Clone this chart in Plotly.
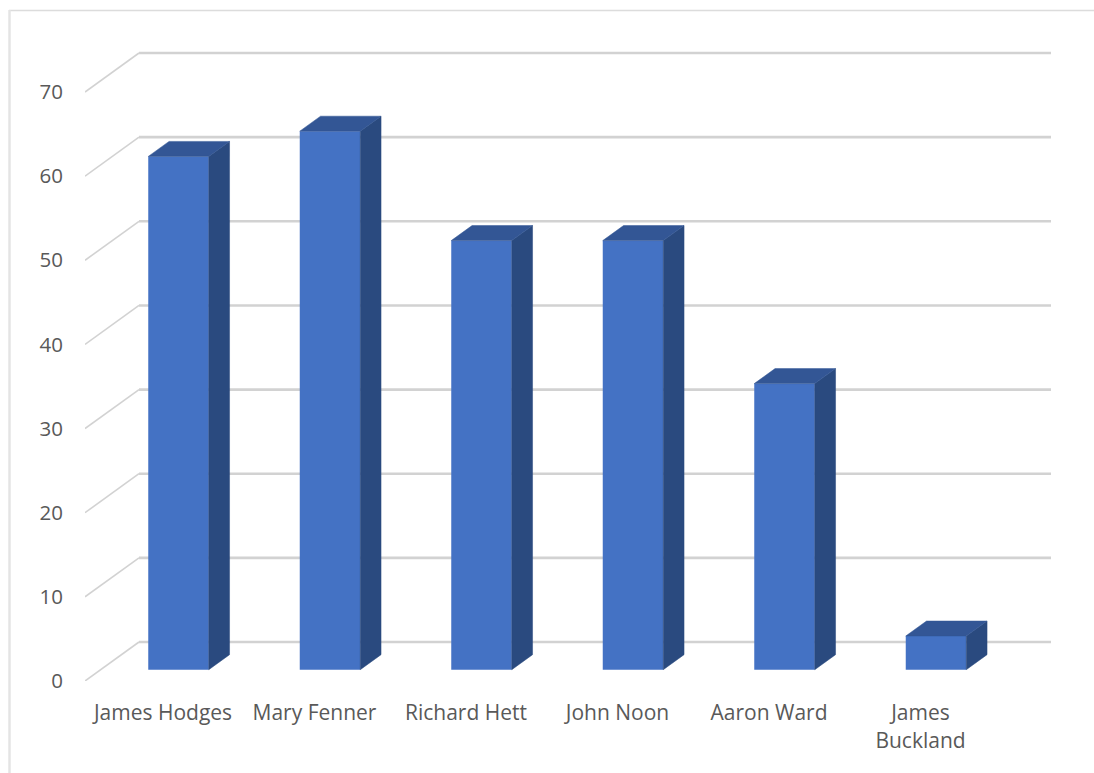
import plotly.graph_objects as go

categories = ["James Hodges", "Mary Fenner", "Richard Hett", "John Noon", "Aaron Ward", "James<br>Buckland"]
values = [61, 64, 51, 51, 34, 4]
y_ticks = [0, 10, 20, 30, 40, 50, 60, 70]

# projection of the 3D floor, in axis units
PITCH = 151.5
UNIT = 8.414
DEPTH_X = 54 / PITCH
DEPTH_Y = 39 / UNIT
FLOOR_L = -78 / PITCH
FLOOR_R = FLOOR_L + 912 / PITCH
BAR_FRONT_X = 0.287
BAR_BACK_X = 0.672
BAR_FRONT_Y = 0.29
BAR_BACK_Y = 0.675
BAR_W = 60.5 / PITCH

FACE = "#4472C4"
SIDE = "#2A4A7F"
TOP = "#335695"
GRID = "#D2D2D2"
TEXT = "#595959"
FONT = "Open Sans"

positions = list(range(len(categories)))
fig = go.Figure()

# back wall gridlines and the diagonals on the side wall
shapes = []
for t in y_ticks:
    shapes.append(dict(type="line", xref="x", yref="y", layer="below",
                       x0=FLOOR_L + DEPTH_X, x1=FLOOR_R + DEPTH_X,
                       y0=t + DEPTH_Y, y1=t + DEPTH_Y,
                       line=dict(color=GRID, width=2.6)))
    shapes.append(dict(type="line", xref="x", yref="y", layer="below",
                       x0=FLOOR_L, x1=FLOOR_L + DEPTH_X,
                       y0=t, y1=t + DEPTH_Y,
                       line=dict(color=GRID, width=1.6)))

fx = BAR_FRONT_X * DEPTH_X
fy = BAR_FRONT_Y * DEPTH_Y
bx = BAR_BACK_X * DEPTH_X
by = BAR_BACK_Y * DEPTH_Y

# side and top faces derived from the values
for p, v in zip(positions, values):
    xr = p + fx + BAR_W / 2
    xl = p + fx - BAR_W / 2
    d_x = bx - fx
    fig.add_trace(go.Scatter(
        x=[xr, xr + d_x, xr + d_x, xr, xr],
        y=[fy, by, v + by, v + fy, fy],
        mode="lines", fill="toself", fillcolor=SIDE, line=dict(color=SIDE, width=0.5), hoverinfo="skip"))
    fig.add_trace(go.Scatter(
        x=[xl, xl + d_x, xr + d_x, xr, xl],
        y=[v + fy, v + by, v + by, v + fy, v + fy],
        mode="lines", fill="toself", fillcolor=TOP, line=dict(color=TOP, width=0.5), hoverinfo="skip"))

fig.add_trace(go.Bar(
    x=[p + fx for p in positions], y=values, base=fy, width=BAR_W,
    marker=dict(color=FACE, line=dict(width=0)),
))

L, R, T, B = 85, 41, 40, 92
W, H = 1094, 773
pw, ph = W - L - R, H - T - B
x_end = FLOOR_L + pw / PITCH
y_end = ph / UNIT


def px(v):
    return (v - L) / pw


def py(v):
    return (H - B - v) / ph


shapes.append(dict(type="line", xref="paper", yref="paper", x0=px(9), x1=px(1100), y0=py(10.5), y1=py(10.5),
                   line=dict(color="#DCDCDC", width=1.5), layer="below"))
shapes.append(dict(type="line", xref="paper", yref="paper", x0=px(9.5), x1=px(9.5), y0=py(10), y1=py(800),
                   line=dict(color="#E4E4E4", width=2.5), layer="below"))

fig.update_layout(
    width=W, height=H, showlegend=False,
    margin=dict(l=L, r=R, t=T, b=B, autoexpand=False),
    paper_bgcolor="white", plot_bgcolor="white",
    font=dict(family=FONT, size=20.5, color=TEXT),
    xaxis=dict(range=[FLOOR_L, x_end], tickmode="array", tickvals=positions, ticktext=categories,
               tickfont=dict(family=FONT, size=21, color=TEXT),
               showgrid=False, zeroline=False, showline=False,
               ticks="outside", ticklen=13, tickcolor="rgba(0,0,0,0)"),
    yaxis=dict(range=[0, y_end], tickmode="array", tickvals=y_ticks,
               showgrid=False, zeroline=False, showline=False,
               ticks="outside", ticklen=17, tickcolor="rgba(0,0,0,0)"),
    shapes=shapes,
)
fig.write_html("out.html", config={"displayModeBar": False}, post_script="document.body.style.margin='0';")
